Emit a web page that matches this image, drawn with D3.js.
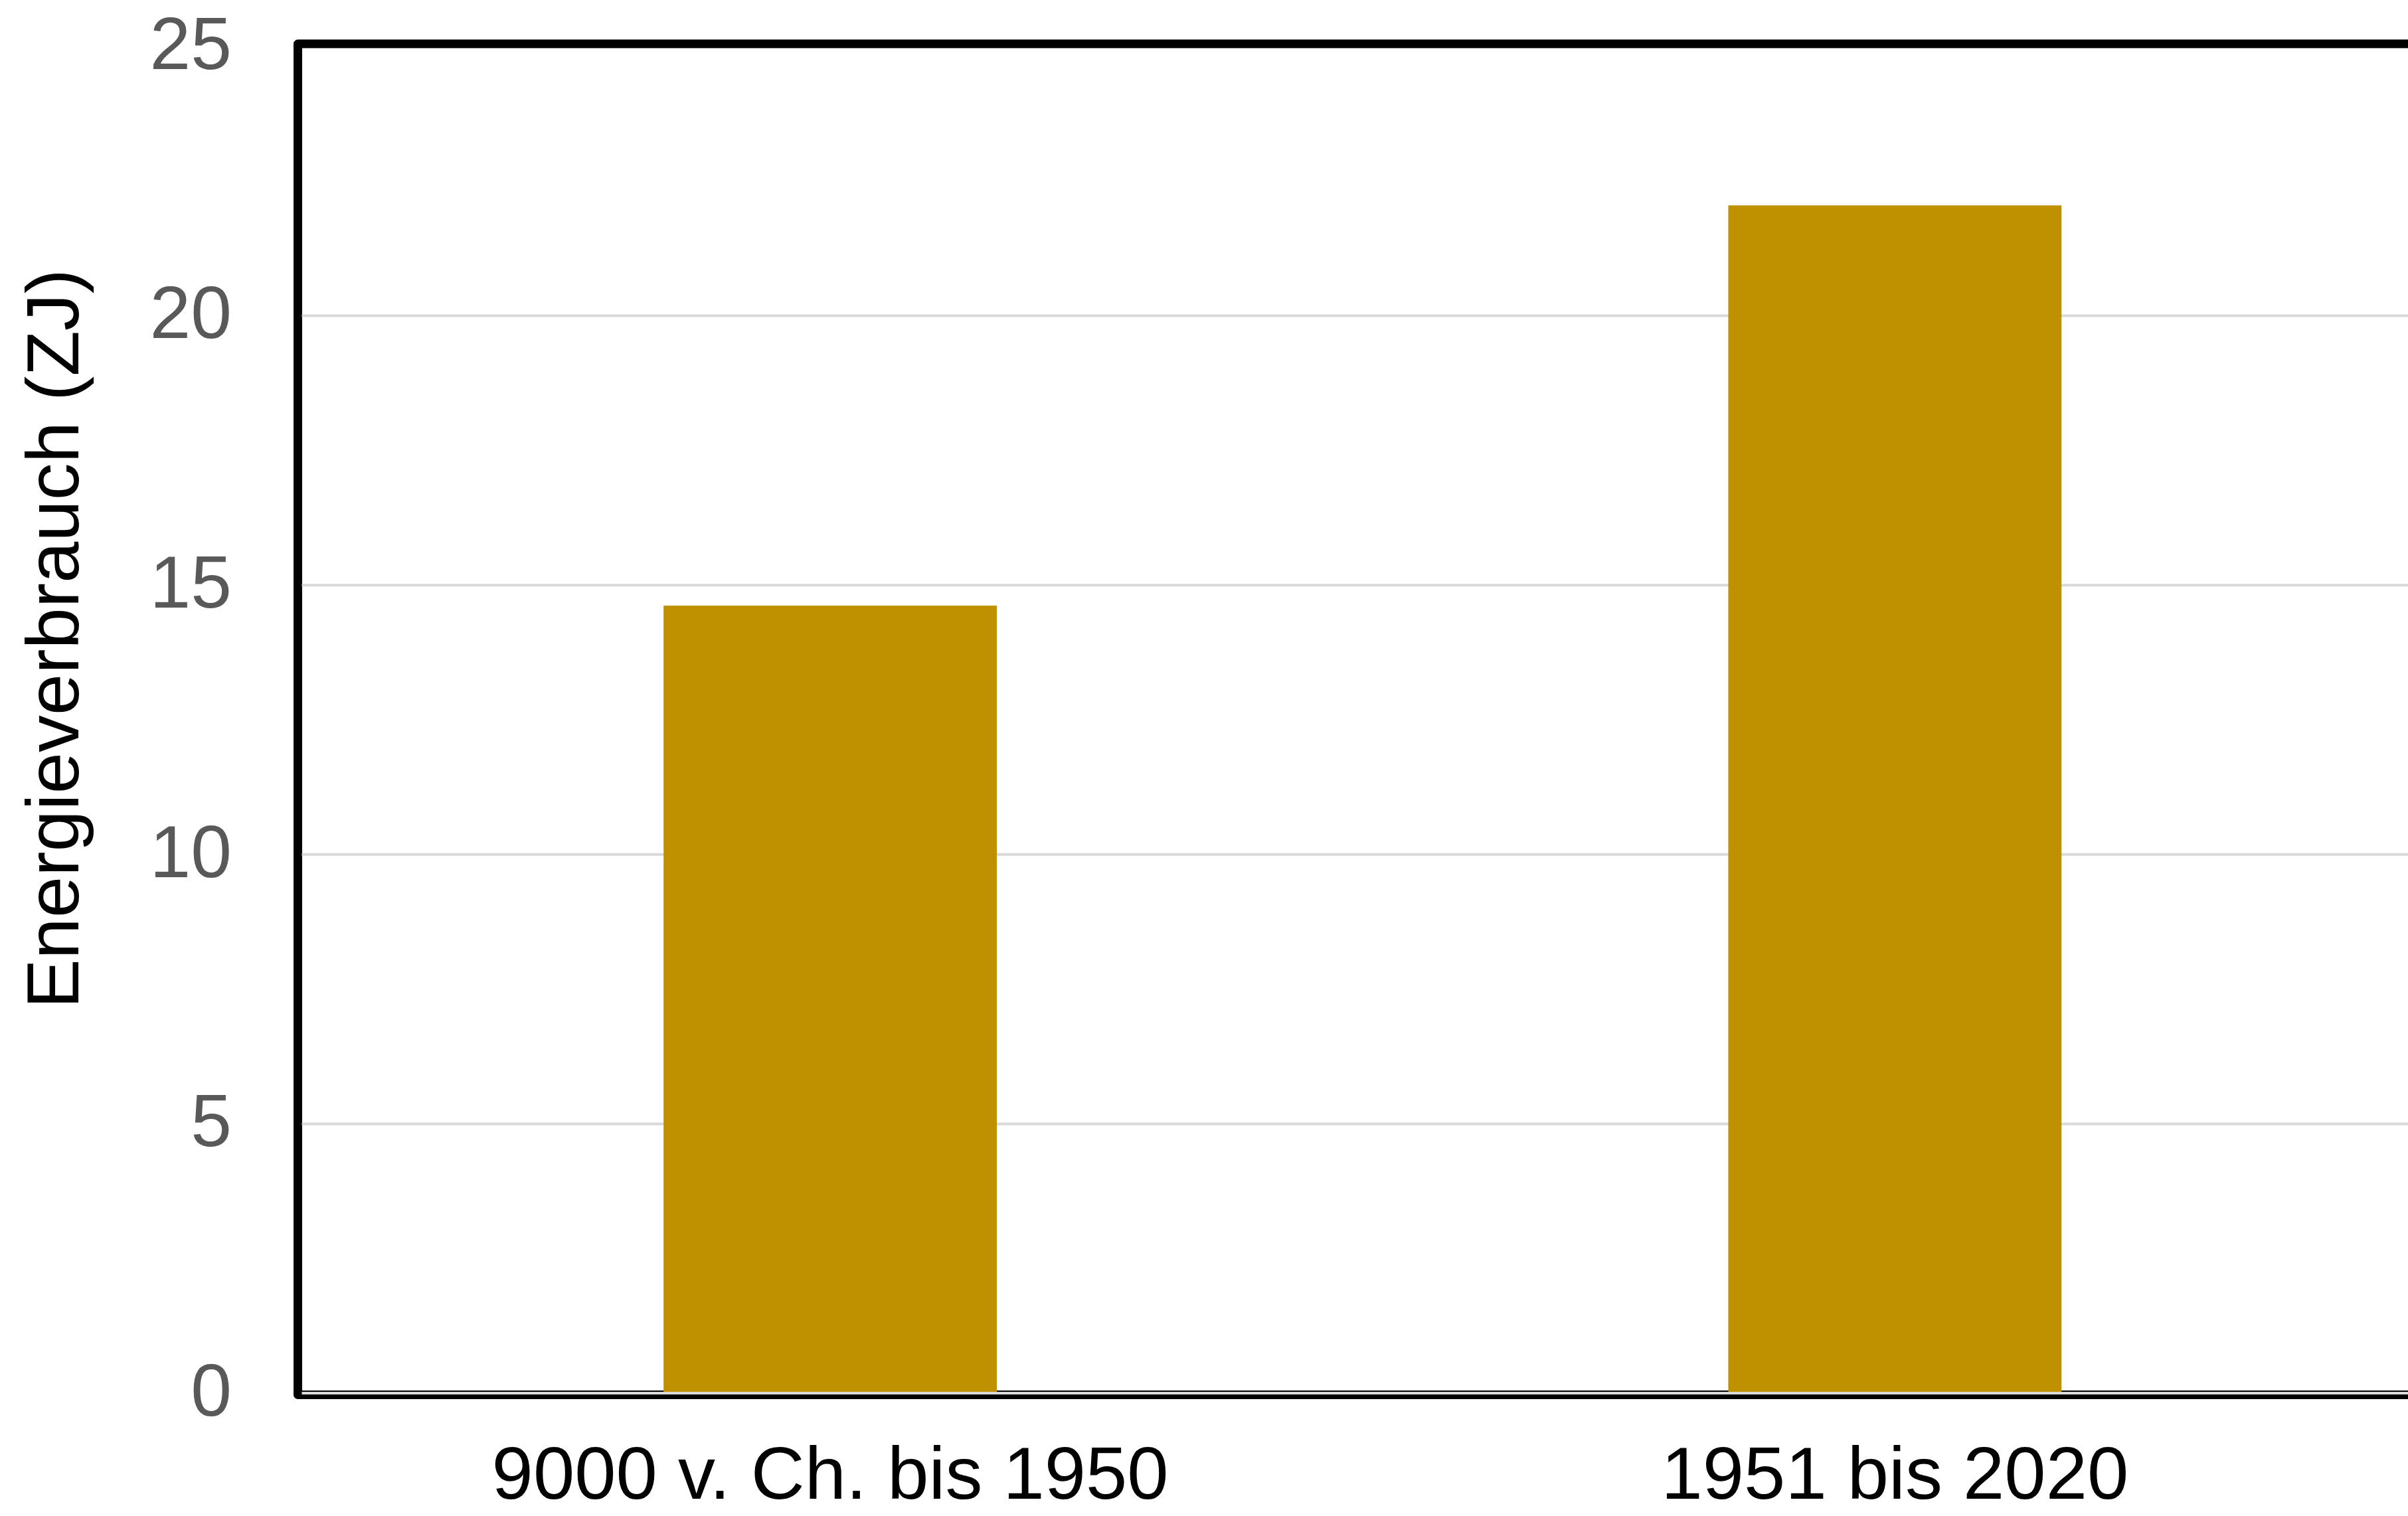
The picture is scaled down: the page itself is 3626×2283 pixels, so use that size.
<!DOCTYPE html>
<html>
<head>
<meta charset="utf-8">
<script src="https://cdn.jsdelivr.net/npm/d3@7"></script>
<style>
  html, body { margin: 0; padding: 0; background: #fff; overflow: hidden; }
  svg { display: block; font-family: "Liberation Sans", Arial, sans-serif; }
</style>
</head>
<body>
<svg id="chart" width="3626" height="2283"></svg>
<script>
// Cumulative global energy consumption per period, in zettajoules
const categories = ["9000 v. Ch. bis 1950", "1951 bis 2020"];
const values = [14.62, 22.05];
const yTicks = [0, 5, 10, 15, 20, 25];
const yTitle = "Energieverbrauch (ZJ)";

const W = 3626, H = 2283;
const plot = { left: 448.5, top: 66, right: 3655, bottom: 2100.5 };

const svg = d3.select("#chart");

const y = d3.scaleLinear().domain([0, 25]).range([2098, 70]);

const x = d3.scaleBand()
  .domain(categories)
  .range([plot.left, plot.right])
  .paddingInner(0.687)
  .paddingOuter(0.3435);

// plot frame
svg.append("rect")
  .attr("x", plot.left)
  .attr("y", plot.top)
  .attr("width", plot.right + 40 - plot.left)
  .attr("height", plot.bottom - plot.top)
  .attr("fill", "none")
  .attr("stroke", "#000")
  .attr("stroke-width", 13)
  .attr("stroke-linejoin", "round");

// horizontal gridlines
svg.append("g")
  .selectAll("line")
  .data(yTicks.filter(t => t < 25))
  .join("line")
  .attr("x1", plot.left + 6)
  .attr("x2", W)
  .attr("y1", d => y(d))
  .attr("y2", d => y(d))
  .attr("stroke", "#d9d9d9")
  .attr("stroke-width", 4);

// bars
svg.append("g")
  .selectAll("rect")
  .data(categories.map((c, i) => ({ c, v: values[i] })))
  .join("rect")
  .attr("x", d => x(d.c))
  .attr("width", x.bandwidth())
  .attr("y", d => y(d.v))
  .attr("height", d => y(0) - y(d.v) - 2)
  .attr("fill", "#BF9000");

// y axis tick labels
const yAxis = d3.axisLeft(y).tickValues(yTicks).tickSize(0).tickPadding(0);
const gy = svg.append("g")
  .attr("transform", "translate(349,0)")
  .call(yAxis);
gy.select(".domain").remove();
gy.selectAll("text")
  .attr("fill", "#595959")
  .attr("font-size", 111)
  .attr("font-family", "Liberation Sans, Arial, sans-serif")
  .attr("dy", "0.30em");

// x axis category labels
const xAxis = d3.axisBottom(x).tickSize(0).tickPadding(0);
const gx = svg.append("g")
  .attr("transform", "translate(0,2257)")
  .call(xAxis);
gx.select(".domain").remove();
gx.selectAll("text")
  .attr("fill", "#000")
  .attr("font-size", 112)
  .attr("font-family", "Liberation Sans, Arial, sans-serif")
  .attr("dy", 0);

// y axis title
svg.append("text")
  .attr("transform", "translate(118,962) rotate(-90)")
  .attr("text-anchor", "middle")
  .attr("font-size", 112)
  .attr("fill", "#000")
  .text(yTitle);
</script>
</body>
</html>
